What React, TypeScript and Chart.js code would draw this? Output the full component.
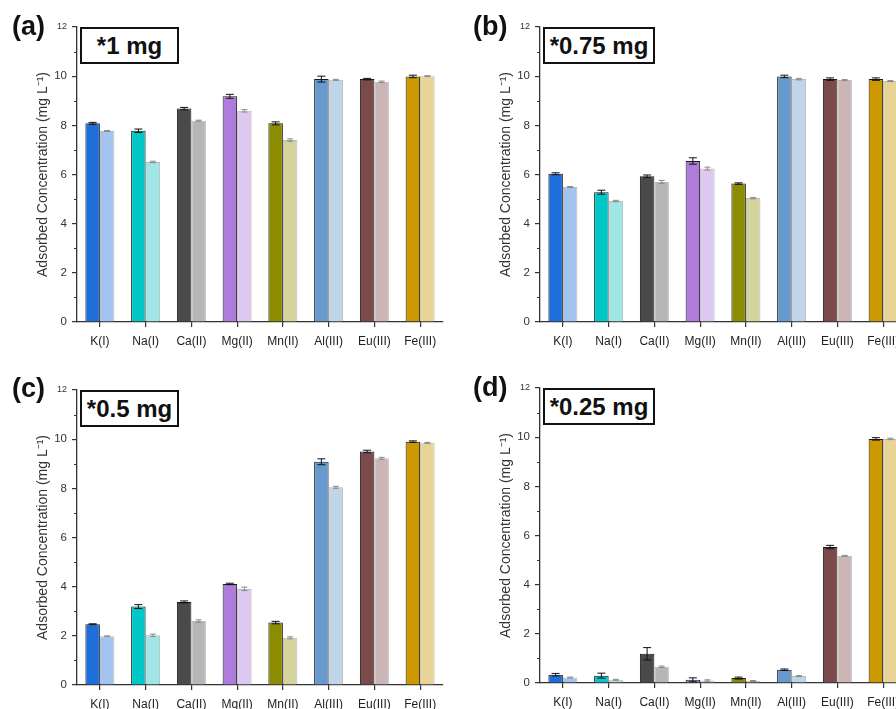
import React, { useEffect, useRef } from 'react';
import { Chart, registerables } from 'chart.js';

Chart.register(...registerables);

const FONT = "'Liberation Sans', Arial, sans-serif";

// ---------- data ----------
const categories = ['K(I)', 'Na(I)', 'Ca(II)', 'Mg(II)', 'Mn(II)', 'Al(III)', 'Eu(III)', 'Fe(III)'];
const darkColors = ['#1e6fdc', '#00c8c8', '#4a4a4a', '#b07cdc', '#8c8c00', '#6699cc', '#7b4b4b', '#cc9900'];
const lightColors = ['#a4c4f0', '#a0e6e6', '#b6b6b6', '#dcc8f0', '#d4d49c', '#c0d4ea', '#ccb5b5', '#e8d496'];
const yMajorTicks = [0, 2, 4, 6, 8, 10, 12];
const yMinorTicks = [1, 3, 5, 7, 9, 11];
const yTitle = 'Adsorbed Concentration (mg L\u207B\u00B9)';

// (a) 1 mg
const aDark = [8.08, 7.78, 8.68, 9.18, 8.08, 9.88, 9.88, 9.99];
const aLight = [7.77, 6.51, 8.19, 8.59, 7.4, 9.85, 9.77, 10.0];
const aDarkErr = [0.04, 0.07, 0.05, 0.08, 0.06, 0.12, 0.03, 0.05];
const aLightErr = [0.02, 0.03, 0.02, 0.05, 0.05, 0.02, 0.03, 0.02];

// (b) 0.75 mg
const bDark = [6.03, 5.28, 5.93, 6.55, 5.63, 9.99, 9.88, 9.88];
const bLight = [5.49, 4.92, 5.7, 6.24, 5.04, 9.88, 9.84, 9.8];
const bDarkErr = [0.04, 0.08, 0.05, 0.13, 0.03, 0.05, 0.05, 0.05];
const bLightErr = [0.02, 0.03, 0.06, 0.06, 0.03, 0.03, 0.02, 0.02];

// (c) 0.5 mg
const cDark = [2.47, 3.19, 3.38, 4.11, 2.54, 9.08, 9.5, 9.9];
const cLight = [1.98, 2.02, 2.6, 3.91, 1.92, 8.04, 9.22, 9.85];
const cDarkErr = [0.02, 0.08, 0.04, 0.03, 0.05, 0.12, 0.05, 0.03];
const cLightErr = [0.02, 0.05, 0.05, 0.07, 0.04, 0.04, 0.04, 0.02];

// (d) 0.25 mg
const dDark = [0.34, 0.3, 1.19, 0.13, 0.2, 0.54, 5.53, 9.93];
const dLight = [0.22, 0.13, 0.66, 0.1, 0.08, 0.28, 5.17, 9.93];
const dDarkErr = [0.05, 0.1, 0.25, 0.08, 0.04, 0.03, 0.07, 0.05];
const dLightErr = [0.02, 0.02, 0.03, 0.03, 0.02, 0.02, 0.02, 0.03];

const panelLabels = ['(a)', '(b)', '(c)', '(d)'];
const doseLabels = ['*1 mg', '*0.75 mg', '*0.5 mg', '*0.25 mg'];

// ---------- layout ----------
const CW = 450;
const CH = 352;
const layouts = [
  { left: 0, top: 0, labelLeft: 12, labelTop: 13, boxWidth: 99 },
  { left: 463, top: 0, labelLeft: 10, labelTop: 13, boxWidth: 112 },
  { left: 0, top: 363, labelLeft: 12, labelTop: 12, boxWidth: 99 },
  { left: 463, top: 361, labelLeft: 10, labelTop: 13, boxWidth: 112 },
];

const seriesSets = [
  { dark: aDark, light: aLight, darkErr: aDarkErr, lightErr: aLightErr },
  { dark: bDark, light: bLight, darkErr: bDarkErr, lightErr: bLightErr },
  { dark: cDark, light: cLight, darkErr: cDarkErr, lightErr: cLightErr },
  { dark: dDark, light: dLight, darkErr: dDarkErr, lightErr: dLightErr },
];

const errorBarPlugin = {
  id: 'errorBars',
  afterDatasetsDraw(chart: any, _args: any, opts: any) {
    const ctx = chart.ctx;
    const y = chart.scales.y;
    chart.data.datasets.forEach((ds: any, di: number) => {
      const meta = chart.getDatasetMeta(di);
      const errs = di === 0 ? opts.dark : opts.light;
      const color = di === 0 ? '#111' : '#8a8a8a';
      const cap = di === 0 ? 4 : 3;
      meta.data.forEach((bar: any, i: number) => {
        const v = ds.data[i];
        const e = errs[i];
        const yt = y.getPixelForValue(v + e);
        const yb = y.getPixelForValue(Math.max(0, v - e));
        const x = bar.x;
        ctx.save();
        ctx.strokeStyle = color;
        ctx.lineWidth = 1;
        ctx.beginPath();
        ctx.moveTo(x, yt);
        ctx.lineTo(x, yb);
        ctx.moveTo(x - cap, yt);
        ctx.lineTo(x + cap, yt);
        ctx.moveTo(x - cap, yb);
        ctx.lineTo(x + cap, yb);
        ctx.stroke();
        ctx.restore();
      });
    });
  },
};

const minorTickPlugin = {
  id: 'minorTicks',
  afterDraw(chart: any) {
    const ctx = chart.ctx;
    const y = chart.scales.y;
    const x0 = chart.chartArea.left;
    ctx.save();
    ctx.strokeStyle = '#333';
    ctx.lineWidth = 1;
    ctx.beginPath();
    yMinorTicks.forEach((v) => {
      const py = Math.round(y.getPixelForValue(v)) + 0.5;
      ctx.moveTo(x0 - 3, py);
      ctx.lineTo(x0, py);
    });
    ctx.stroke();
    ctx.restore();
  },
};

function Panel({ idx }: { idx: number }) {
  const ref = useRef<HTMLCanvasElement>(null);
  const lay = layouts[idx];
  const s = seriesSets[idx];

  useEffect(() => {
    if (!ref.current) return;
    const chart = new Chart(ref.current, {
      type: 'bar',
      data: {
        labels: categories,
        datasets: [
          {
            data: s.dark,
            backgroundColor: darkColors,
            borderColor: '#1a1a1a',
            borderWidth: 1,
            categoryPercentage: 0.634,
            barPercentage: 1,
          },
          {
            data: s.light,
            backgroundColor: lightColors,
            borderColor: 'rgba(0,0,0,0.28)',
            borderWidth: 1,
            categoryPercentage: 0.634,
            barPercentage: 1,
          },
        ],
      },
      options: {
        responsive: false,
        animation: false,
        events: [],
        layout: { padding: { top: 27, left: 0, right: 7, bottom: 0 } },
        plugins: {
          legend: { display: false },
          tooltip: { enabled: false },
          errorBars: { dark: s.darkErr, light: s.lightErr },
        } as any,
        scales: {
          x: {
            offset: true,
            grid: {
              offset: false,
              drawOnChartArea: false,
              drawTicks: true,
              tickLength: 5,
              color: '#333',
              lineWidth: 1.2,
            },
            border: { color: '#333', width: 1.3 },
            ticks: {
              autoSkip: false,
              maxRotation: 0,
              minRotation: 0,
              padding: 7,
              color: '#222',
              font: { family: FONT, size: 12 },
            },
            afterFit: (scale: any) => {
              scale.height = 30;
            },
          },
          y: {
            min: 0,
            max: 12,
            afterBuildTicks: (scale: any) => {
              scale.ticks = yMajorTicks.map((v) => ({ value: v }));
            },
            grid: {
              drawOnChartArea: false,
              drawTicks: true,
              tickLength: 5,
              color: '#333',
              lineWidth: 1.2,
            },
            border: { color: '#333', width: 1.3 },
            ticks: {
              padding: 5,
              color: '#333',
              font: (c: any) => ({
                family: FONT,
                size: c.tick && c.tick.value === 12 ? 9 : 11.5,
              }),
            },
            title: {
              display: true,
              text: yTitle,
              color: '#333',
              font: { family: FONT, size: 14 },
              padding: { top: 34.6, bottom: 0 },
            },
            afterFit: (scale: any) => {
              scale.width = 77;
            },
          },
        },
      },
      plugins: [errorBarPlugin, minorTickPlugin],
    });
    return () => chart.destroy();
  }, []);

  return (
    <>
      <canvas
        ref={ref}
        width={CW}
        height={CH}
        style={{ position: 'absolute', left: lay.left, top: lay.top, width: CW, height: CH }}
      />
      <div
        style={{
          position: 'absolute',
          left: lay.left + lay.labelLeft,
          top: lay.top + lay.labelTop,
          font: `bold 27px ${FONT}`,
          lineHeight: '27px',
          color: '#111',
          whiteSpace: 'nowrap',
        }}
      >
        {panelLabels[idx]}
      </div>
      <div
        style={{
          position: 'absolute',
          left: lay.left + 80,
          top: lay.top + 27,
          width: lay.boxWidth,
          height: 37,
          boxSizing: 'border-box',
          border: '2px solid #111',
          background: '#fff',
          display: 'flex',
          alignItems: 'center',
          justifyContent: 'center',
          font: `bold 24px ${FONT}`,
          color: '#111',
          whiteSpace: 'nowrap',
        }}
      >
        {doseLabels[idx]}
      </div>
    </>
  );
}

export default function App() {
  return (
    <div
      style={{
        position: 'absolute',
        left: 0,
        top: 0,
        width: 896,
        height: 709,
        overflow: 'hidden',
        background: '#fff',
      }}
    >
      {[0, 1, 2, 3].map((i) => (
        <Panel key={i} idx={i} />
      ))}
    </div>
  );
}
